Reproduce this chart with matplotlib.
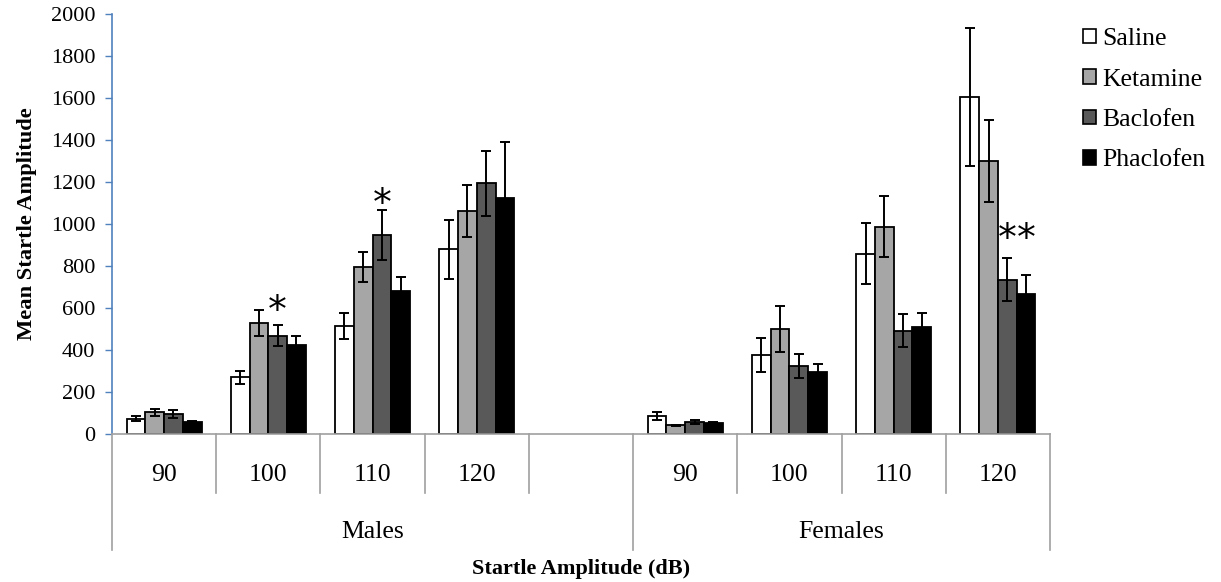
import numpy as np
import matplotlib
matplotlib.use("Agg")
import matplotlib.pyplot as plt
import matplotlib.transforms as mtransforms
from matplotlib.lines import Line2D
from matplotlib.patches import Patch

plt.rcParams['font.family'] = ['Liberation Serif', 'DejaVu Serif']

# ---- data ----
level_labels = ['90', '100', '110', '120', '', '90', '100', '110', '120']
groups = ['Males', 'Females']
group_spans = [(0, 4), (5, 8)]
series_names = ['Saline', 'Ketamine', 'Baclofen', 'Phaclofen']
nan = np.nan
saline = [73, 270, 514, 880, nan, 87, 377, 858, 1605]
saline_err = [12, 30, 60, 140, nan, 19, 80, 145, 330]
ketamine = [103, 530, 796, 1063, nan, 41, 500, 987, 1299]
ketamine_err = [17, 62, 70, 125, nan, 4, 110, 146, 195]
baclofen = [95, 468, 948, 1193, nan, 59, 324, 492, 734]
baclofen_err = [19, 50, 118, 153, nan, 9, 55, 78, 102]
phaclofen = [59, 423, 682, 1124, nan, 51, 295, 508, 668]
phaclofen_err = [5, 46, 68, 267, nan, 6, 36, 67, 89]
# significance markers: (slot, series index, height)
stars = [(1, 2, 620), (2, 2, 1130), (8, 2, 962), (8, 3, 962)]

values = [saline, ketamine, baclofen, phaclofen]
errors = [saline_err, ketamine_err, baclofen_err, phaclofen_err]
colors = ['#FFFFFF', '#A6A6A6', '#595959', '#000000']

W, H = 1221, 582
fig = plt.figure(figsize=(W / 100, H / 100), dpi=100)
ax = fig.add_axes([112 / W, 1 - 434 / H, (1050 - 112) / W, 420 / H])

x = np.arange(len(level_labels))
bw = 0.18
for i, (v, e, c) in enumerate(zip(values, errors, colors)):
    pos = x + (i - 1.5) * bw
    ax.bar(pos, v, bw, color=c, edgecolor='black', linewidth=1.3, label=series_names[i], zorder=2)
    ax.errorbar(pos, v, yerr=e, fmt='none', ecolor='black', elinewidth=1.4,
                capsize=3.5, capthick=1.4, zorder=3)

for slot, si, h in stars:
    ax.annotate('*', (x[slot] + (si - 1.5) * bw, h), xytext=(0, -6), textcoords='offset points',
                ha='center', va='center', fontsize=27, family=['DejaVu Sans'], zorder=4)

ax.set_xlim(-0.5, len(level_labels) - 0.5)
ax.set_ylim(0, 2000)
ax.set_yticks(np.arange(0, 2001, 200))
ax.tick_params(axis='y', direction='out', length=5, color='#4F81BD', labelsize=16, width=1, pad=7)
ax.set_xticks([])
for s in ['top', 'right']:
    ax.spines[s].set_visible(False)
ax.spines['left'].set_color('#4F81BD')
ax.spines['left'].set_linewidth(1.2)
ax.spines['bottom'].set_color('#A0A0A0')
ax.spines['bottom'].set_linewidth(1.2)

ax.set_ylabel('Mean Startle Amplitude', fontsize=16.2, fontweight='bold', labelpad=10)

# multi-level category axis
tr = mtransforms.blended_transform_factory(ax.transData, fig.transFigure)
def fy(py):
    return 1 - py / H

boundaries = np.arange(-0.5, len(level_labels), 1.0)
long_b = [-0.5] + [e + 0.5 for (_, e) in group_spans]
for b in boundaries:
    bottom = 550 if any(abs(b - lb) < 1e-6 for lb in long_b) else 493
    fig.add_artist(Line2D([b, b], [fy(434), fy(bottom)], transform=tr, color='#A0A0A0', lw=1.2))
for xi, lab in zip(x, level_labels):
    fig.text(xi, fy(475), lab, transform=tr, ha='center', va='center', fontsize=18.5)
for g, (s, e) in zip(groups, group_spans):
    lo = s - 0.5
    hi = e + 0.5 if g != 'Males' else 4.5
    fig.text((lo + hi) / 2, fy(532), g, transform=tr, ha='center', va='center', fontsize=18.5)
fig.text((112 + 1050) / 2 / W, fy(569), 'Startle Amplitude (dB)', ha='center', va='center',
         fontsize=16, fontweight='bold')

handles = [Patch(facecolor=c, edgecolor='black', linewidth=1.2) for c in colors]
fig.legend(handles, series_names, loc='upper left', bbox_to_anchor=(1083 / W, fy(28)),
           frameon=False, fontsize=18.5, handlelength=0.5, handleheight=0.5,
           handletextpad=0.25, labelspacing=0.72, borderaxespad=0, borderpad=0)

fig.savefig('out.png', dpi=100)
